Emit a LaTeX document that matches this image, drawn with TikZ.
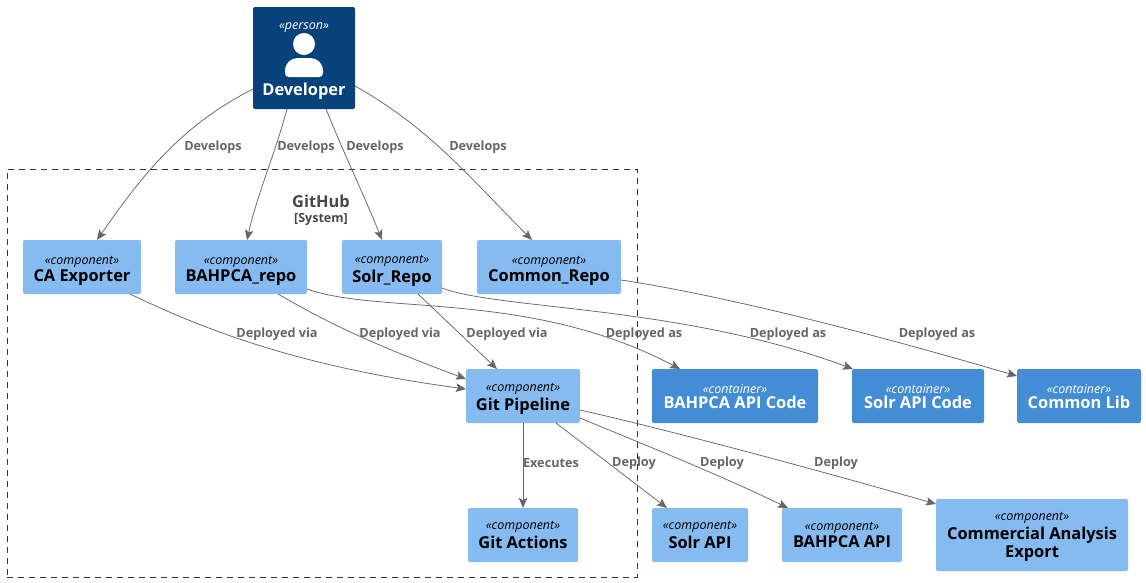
\documentclass[tikz,border=0pt]{standalone}
\usepackage{fontspec}
\setmainfont{Open Sans}
\usetikzlibrary{arrows.meta}
\definecolor{person}{HTML}{08427B}
\definecolor{cont}{HTML}{438DD5}
\definecolor{comp}{HTML}{85BBF0}
\definecolor{edgec}{HTML}{666666}
\tikzset{
  x=1pt,y=-1pt,
  box/.style={rectangle,rounded corners=2pt,inner sep=0pt,outer sep=0pt,align=center,anchor=north west},
  compbox/.style={box,fill=comp,text=black},
  contbox/.style={box,fill=cont,text=white},
  persbox/.style={box,fill=person,text=white},
  conn/.style={draw=edgec,line width=0.75pt,-{Stealth[length=10pt,width=8.5pt,inset=2pt]}},
  lbl/.style={text=edgec,font=\fontsize{12.7}{14}\selectfont\bfseries,inner sep=0pt},
}
\newcommand{\nmf}{\fontsize{16.4}{18}\selectfont\bfseries}
\newcommand{\sterf}{\fontsize{12.5}{14}\selectfont\itshape}
\newcommand{\ster}[1]{\rule{0pt}{16pt}{\sterf «#1»}\\[2pt]}
\newcommand{\bx}[7]{\node[#1,minimum width=#4pt,minimum height=#5pt] (#2) at (#3) {\ster{#6}\nmf #7};}
\newcommand{\bxl}[8]{\node[#1,minimum width=#4pt,minimum height=#5pt] (#2) at (#3) {\ster{#6}\nmf #7\rule[-#8pt]{0pt}{#8pt}};}
\begin{document}
\begin{tikzpicture}
\useasboundingbox (0,0) rectangle (1146,582);
\fill[white] (0,0) rectangle (1146,582);
\node[draw=black!80,dash pattern=on 6pt off 5pt,line width=0.7pt,rectangle,inner sep=0pt,anchor=north west,minimum width=630pt,minimum height=408pt] (sys) at (7,169) {};
\node[text=black!72,font=\nmf,inner sep=0pt] (ghub) at (321,201.5) {GitHub};
\node[text=black!72,font=\fontsize{12.5}{14}\selectfont\bfseries,inner sep=0pt] (ghubs) at (321,219) {[System]};
\node[persbox,minimum width=102pt,minimum height=102pt] (dev) at (253,7) {};
\node[text=white,font=\sterf,inner sep=0pt] (devs) at (304,27.5) {«person»};
\node[text=white,font=\nmf,inner sep=0pt] (devn) at (304,91) {Developer};
\fill[white] (304,44) circle (11);
\fill[white] (285,73) -- (285,71) .. controls (285,63) and (291,58) .. (298,58) -- (310,58) .. controls (317,58) and (323,63) .. (323,71) -- (323,73) .. controls (323,75.5) and (321.5,77) .. (319,77) -- (289,77) .. controls (286.5,77) and (285,75.5) .. (285,73) -- cycle;
\bx{compbox}{ca}{23,240}{118}{54}{component}{CA Exporter}
\bx{compbox}{brepo}{175,240}{132}{54}{component}{BAHPCA\_repo}
\bx{compbox}{srepo}{342,240}{100}{54}{component}{Solr\_Repo}
\bx{compbox}{crepo}{477,240}{144}{54}{component}{Common\_Repo}
\bxl{compbox}{pipe}{466,369}{114}{54}{component}{Git Pipeline}{6}
\bxl{compbox}{act}{468,508}{110}{54}{component}{Git Actions}{8}
\bxl{compbox}{sapi}{652,508}{96}{54}{component}{Solr API}{8}
\bxl{compbox}{bapi}{782,508}{120}{54}{component}{BAHPCA API}{8}
\node[compbox,minimum width=192pt,minimum height=72pt] (cae) at (936,499) {\rule{0pt}{12pt}{\sterf «component»}\\[2pt]\nmf Commercial Analysis\\[1pt]\nmf Export};
\bxl{contbox}{bcode}{652,369}{166}{54}{container}{BAHPCA API Code}{6}
\bxl{contbox}{scode}{852,369}{132}{54}{container}{Solr API Code}{6}
\bxl{contbox}{clib}{1017,369}{124}{54}{container}{Common Lib}{6}
% connectors
\draw[conn] ([yshift=20pt]dev.south west) .. controls +(-75,38) and +(42,-60) .. ([xshift=74pt]ca.north west);
\draw[conn] ([xshift=34pt]dev.south west) .. controls +(-12,45) and +(10,-45) .. ([xshift=72pt]brepo.north west);
\draw[conn] ([xshift=73pt]dev.south west) .. controls +(18,45) and +(-18,-45) .. ([xshift=40pt]srepo.north west);
\draw[conn] ([yshift=23pt]dev.south east) .. controls +(75,42) and +(-60,-60) .. ([xshift=55pt]crepo.north west);
\draw[conn] ([xshift=107pt]ca.south west) .. controls +(85,41) and +(-156,-21) .. ([yshift=34pt]pipe.south west);
\draw[conn] ([xshift=103pt]brepo.south west) .. controls +(60,35) and +(-80,-30) .. ([yshift=44pt]pipe.south west);
\draw[conn] ([xshift=76pt]srepo.south west) -- ([xshift=31pt]pipe.north west);
\draw[conn] ([yshift=5pt]brepo.south east) .. controls (380,315) and (530,290) .. ([xshift=28pt]bcode.north west);
\draw[conn] ([yshift=6pt]srepo.south east) .. controls (500,310) and (680,305) .. ([xshift=1pt]scode.north west);
\draw[conn] ([yshift=14pt]crepo.south east) .. controls (720,295) and (860,330) .. ([yshift=-7pt]clib.north west);
\draw[conn] ([xshift=57pt]pipe.south west) -- ([xshift=55pt]act.north west);
\draw[conn] ([xshift=90pt]pipe.south west) -- ([xshift=15pt]sapi.north west);
\draw[conn] ([yshift=5pt]pipe.south east) .. controls (650,447) and (720,475) .. ([xshift=6pt]bapi.north west);
\draw[conn] ([yshift=13pt]pipe.south east) .. controls (660,428) and (800,465) .. ([yshift=-5pt]cae.north west);
% labels
\foreach \n/\p in {l1/{213,147.5},l2/{306,147.5},l3/{375,147.5},l4/{478,147.5}} \node[lbl] (\n) at (\p) {Develops};
\foreach \n/\p in {l5/{277,334.5},l6/{400,334.5},l7/{507,334.5}} \node[lbl] (\n) at (\p) {Deployed via};
\foreach \n/\p in {l8/{644,334.5},l9/{788,334.5},l10/{937,334.5}} \node[lbl] (\n) at (\p) {Deployed as};
\node[lbl] (l11) at (551,463) {Executes};
\foreach \n/\p in {l12/{634,463},l13/{722,463},l14/{836,463}} \node[lbl] (\n) at (\p) {Deploy};
\end{tikzpicture}
\end{document}
